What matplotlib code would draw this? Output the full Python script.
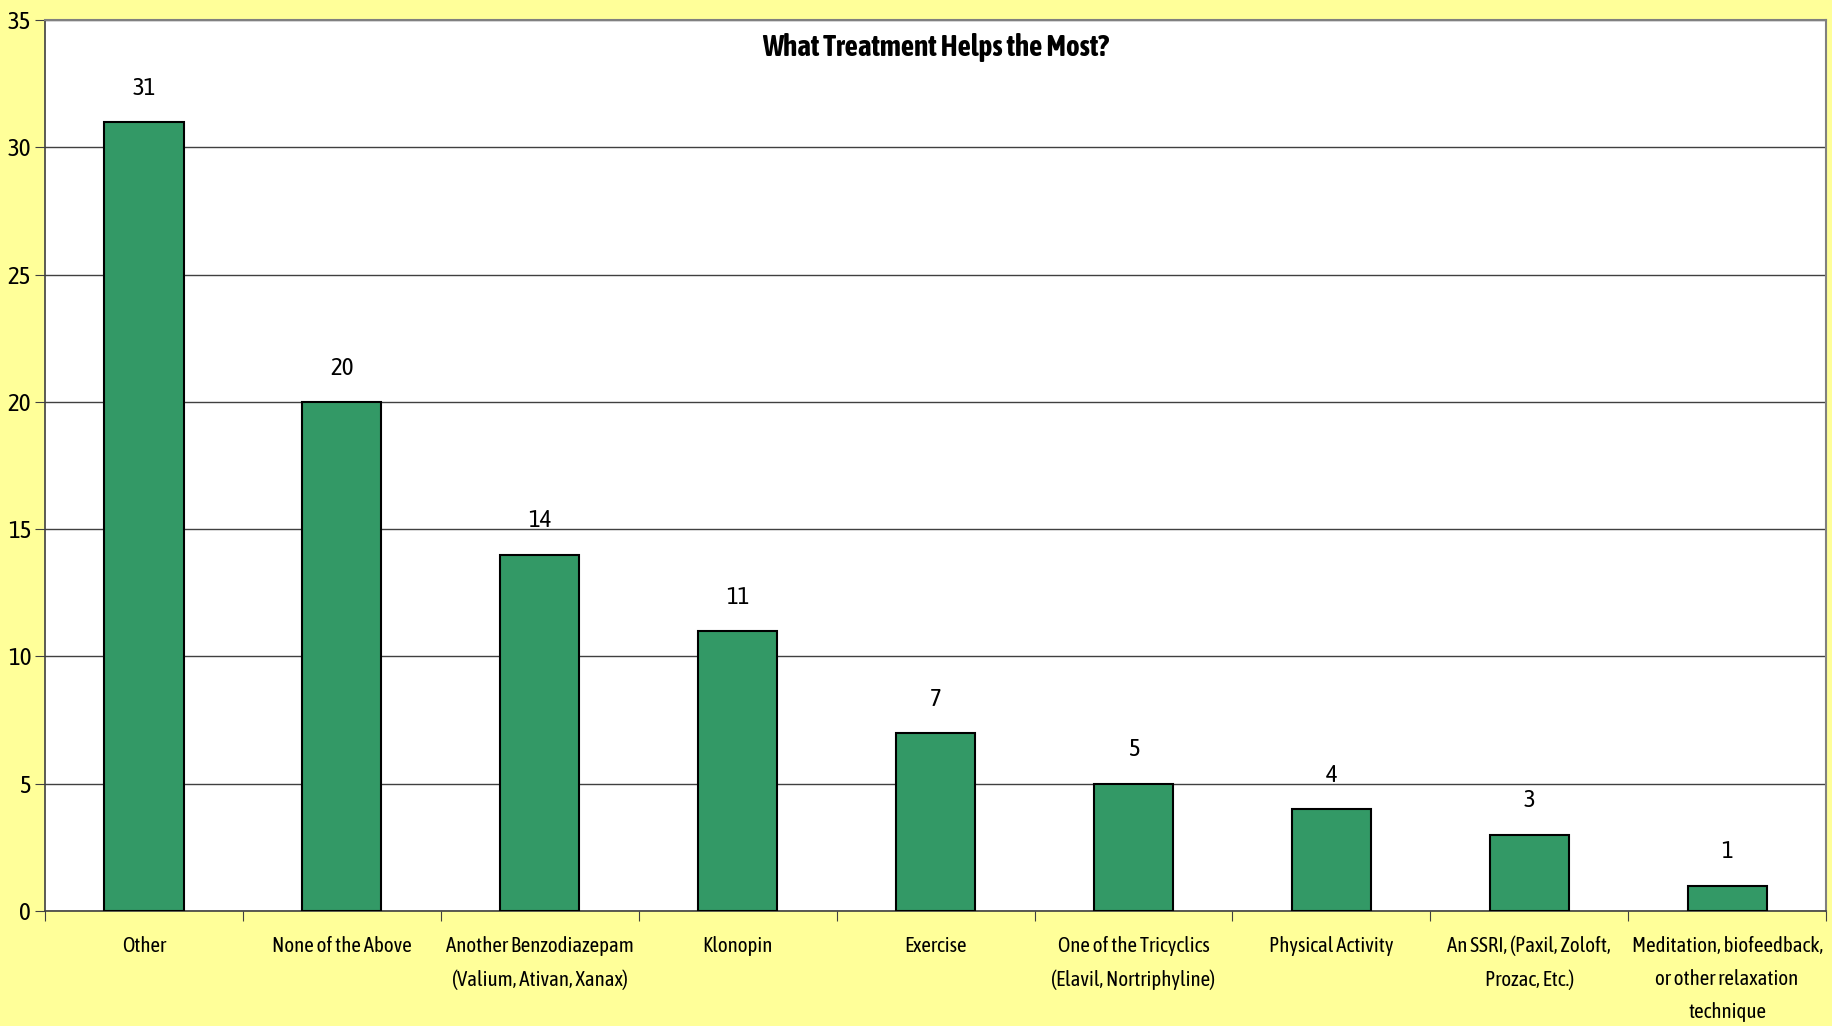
import matplotlib.pyplot as plt
import numpy as np

categories = [
    "Other",
    "None of the Above",
    "Another Benzodiazepam\n(Valium, Ativan, Xanax)",
    "Klonopin",
    "Exercise",
    "One of the Tricyclics\n(Elavil, Nortriphyline)",
    "Physical Activity",
    "An SSRI, (Paxil, Zoloft,\nProzac, Etc.)",
    "Meditation, biofeedback,\nor other relaxation\ntechnique",
]
counts = [31, 20, 14, 11, 7, 5, 4, 3, 1]
y_ticks = [0, 5, 10, 15, 20, 25, 30, 35]

# 没有 Arial Narrow，用窄体字代替
plt.rcParams['font.family'] = ['Asap Condensed', 'Archivo Narrow', 'Liberation Sans', 'DejaVu Sans']

fig = plt.figure(figsize=(18.33, 10.26), dpi=100, facecolor='#FFFF99')
ax = fig.add_axes([0.0246, 0.1121, 0.9716, 0.8684])
ax.set_facecolor('white')

x = np.arange(len(categories))
ax.bar(x, counts, width=0.40, color='#339966', edgecolor='black', linewidth=1.5, zorder=3)

# 数值标签
for xi, v in zip(x, counts):
    ax.annotate(str(v), (xi, v), xytext=(0, 16), textcoords='offset points',
                ha='center', va='bottom', fontsize=18)

ax.set_xlim(-0.5, len(categories) - 0.5)
ax.set_ylim(0, 35)
ax.set_yticks(y_ticks)
ax.set_yticklabels([str(t) for t in y_ticks], fontsize=18)
ax.yaxis.grid(True, color='#404040', linewidth=1.0, zorder=0)

# x轴刻度在类别之间，标签在类别中心
ax.set_xticks(np.arange(len(categories) + 1) - 0.5)
ax.set_xticklabels([])
ax.set_xticks(x, minor=True)
ax.set_xticklabels(categories, minor=True, fontsize=15, linespacing=1.8)
ax.tick_params(axis='x', which='minor', length=0, pad=18)
ax.tick_params(axis='x', which='major', length=7, color='#404040', direction='out')
ax.tick_params(axis='y', length=7, color='#404040', direction='out', pad=3)

for side in ['top', 'right']:
    ax.spines[side].set_color('#808080')
    ax.spines[side].set_linewidth(1.5)
for side in ['left', 'bottom']:
    ax.spines[side].set_color('#404040')
    ax.spines[side].set_linewidth(1.2)

ax.text(0.5, 0.969, "What Treatment Helps the Most?", transform=ax.transAxes,
        ha='center', va='center', fontsize=21, fontweight='bold')

plt.savefig('out.png', dpi=100, facecolor=fig.get_facecolor())
